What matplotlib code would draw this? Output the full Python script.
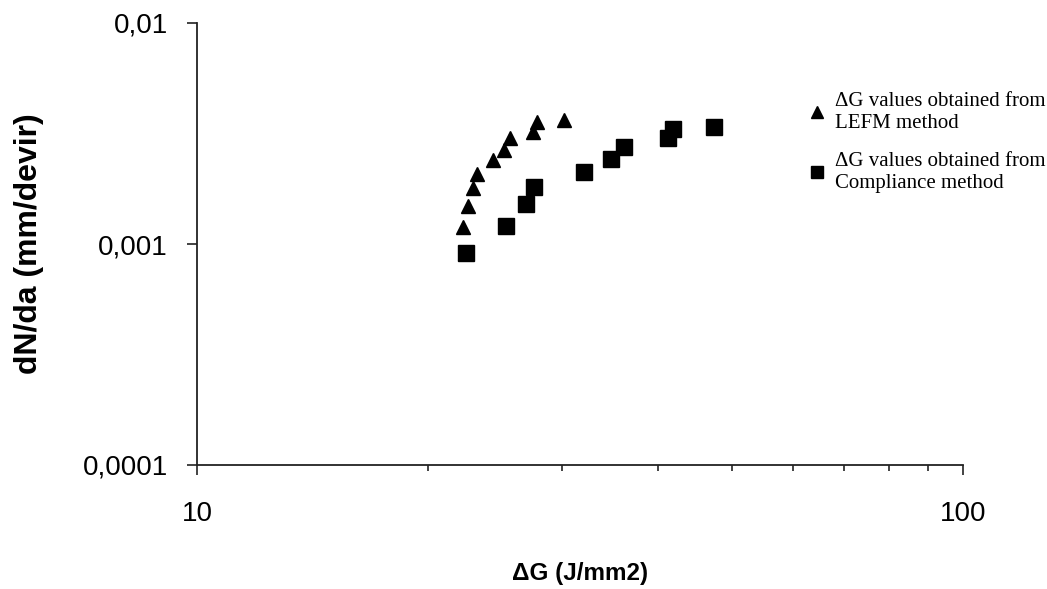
import matplotlib
matplotlib.use("Agg")
import matplotlib.pyplot as plt
from matplotlib.ticker import FixedLocator, NullFormatter, NullLocator

# crack growth data, LEFM-based energy release rate range
lefm_dg = [22.40, 22.27, 22.61, 22.95, 23.23, 24.37, 25.19, 25.65, 27.42, 27.83, 30.18]
lefm_rate = [9.10e-4, 1.194e-3, 1.486e-3, 1.792e-3, 2.073e-3, 2.399e-3,
             2.663e-3, 3.017e-3, 3.212e-3, 3.565e-3, 3.64e-3]

# same specimens, compliance-based energy release rate range
comp_dg = [22.47, 25.35, 26.92, 27.58, 31.96, 34.76, 36.06, 41.16, 41.78, 47.27]
comp_rate = [9.10e-4, 1.206e-3, 1.517e-3, 1.811e-3, 2.118e-3, 2.424e-3,
             2.748e-3, 3.017e-3, 3.314e-3, 3.383e-3]

x_ticks = [10, 100]
x_minor_ticks = [20, 30, 40, 50, 60, 70, 80, 90]
x_tick_labels = ["10", "100"]
y_ticks = [1e-4, 1e-3, 1e-2]
y_tick_labels = ["0,0001", "0,001", "0,01"]

lefm_label = "\u0394G values obtained from\nLEFM method"
comp_label = "\u0394G values obtained from\nCompliance method"

SANS = "Liberation Sans"
SERIF = "Liberation Serif"

fig = plt.figure(figsize=(10.47, 5.89), dpi=100)
ax = fig.add_axes([197 / 1047, 124 / 589, 766 / 1047, 442 / 589])

ax.plot(lefm_dg, lefm_rate, linestyle="none", marker="^", ms=10.5,
        color="black", label=lefm_label)
ax.plot(comp_dg, comp_rate, linestyle="none", marker="s", ms=11,
        color="black", label=comp_label)

ax.set_xscale("log")
ax.set_yscale("log")
ax.set_xlim(10, 100)
ax.set_ylim(1e-4, 1e-2)

ax.xaxis.set_major_locator(FixedLocator(x_ticks))
ax.xaxis.set_minor_locator(FixedLocator(x_minor_ticks))
ax.xaxis.set_minor_formatter(NullFormatter())
ax.set_xticklabels(x_tick_labels)
ax.yaxis.set_major_locator(FixedLocator(y_ticks))
ax.yaxis.set_minor_locator(NullLocator())
ax.set_yticklabels(y_tick_labels)

for side in ("top", "right"):
    ax.spines[side].set_visible(False)
for side in ("left", "bottom"):
    ax.spines[side].set_linewidth(1.3)
    ax.spines[side].set_color("#222222")

ax.tick_params(axis="both", which="major", direction="out", length=7,
               width=1.2, color="#222222", labelsize=20, pad=14)
ax.tick_params(axis="x", which="minor", direction="out", length=4.5,
               width=1.2, color="#222222")
ax.tick_params(axis="x", which="major", pad=19)
for lab in ax.get_xticklabels() + ax.get_yticklabels():
    lab.set_fontfamily(SANS)

ax.set_xlabel("\u0394G (J/mm2)", fontsize=17.5, fontweight="bold",
              fontfamily=SANS, labelpad=25)
ax.set_ylabel("dN/da (mm/devir)", fontsize=23, fontweight="bold",
              fontfamily=SANS, labelpad=28)

ax.legend(loc="upper left", bbox_to_anchor=(800 / 1047, 505 / 589),
          bbox_transform=fig.transFigure, frameon=False,
          prop={"family": SERIF, "size": 15}, handlelength=0.8,
          handletextpad=0.5, labelspacing=0.9, borderaxespad=0,
          markerscale=0.85)

fig.savefig("out.png", dpi=100, facecolor="white")
